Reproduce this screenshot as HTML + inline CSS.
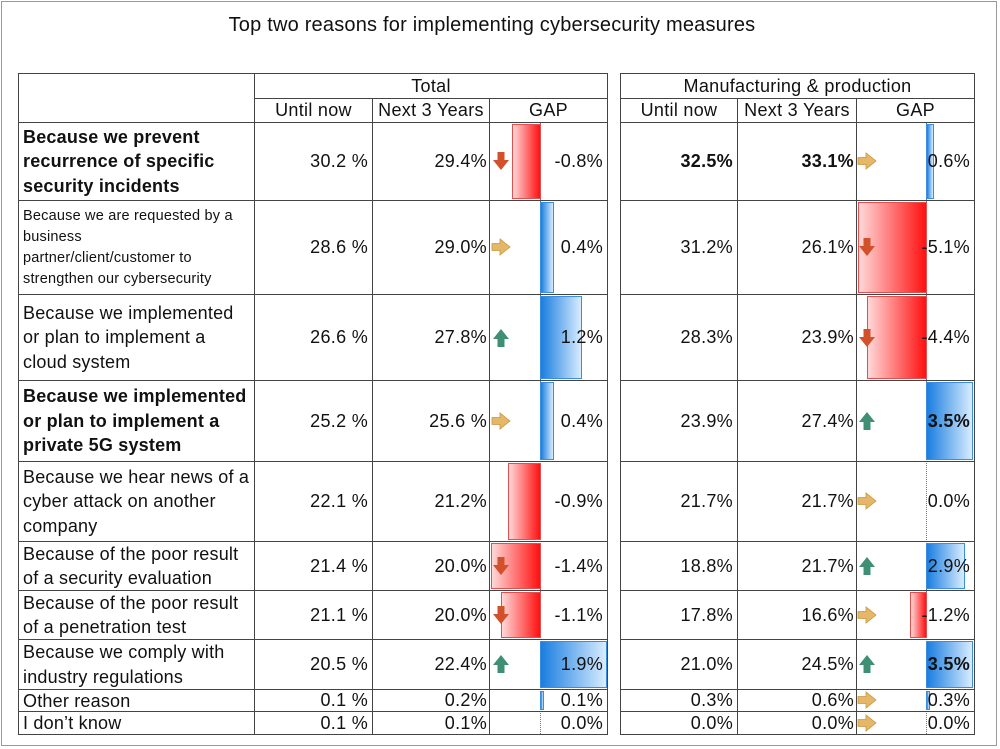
<!DOCTYPE html>
<html><head><meta charset="utf-8"><style>
body{margin:0;width:1000px;height:749px;background:#fff;font-family:"Liberation Sans","DejaVu Sans",sans-serif;position:relative;overflow:hidden;color:#111}
.frame{position:absolute;left:1px;top:1px;width:996px;height:745px;border:1px solid #9a9a9a;box-sizing:border-box}
.t{position:absolute;left:0;width:984px;top:14px;text-align:center;font-size:20px;letter-spacing:0.2px}
.c{position:absolute;box-sizing:border-box;border:1px solid #444;display:flex;align-items:center;justify-content:flex-end;padding-right:4px;font-size:18px;letter-spacing:0.3px;white-space:nowrap}
.h{justify-content:center;padding:0}
.l{justify-content:flex-start;padding:0 4px;white-space:nowrap;line-height:24.5px;letter-spacing:0.2px}
.g{background:transparent;z-index:2}
.b{font-weight:bold}
.br{position:absolute;box-sizing:border-box;border:1px solid #e05050;background:linear-gradient(to right,#ffd8d8,#ff1010);z-index:1}
.bb{position:absolute;box-sizing:border-box;border:1px solid #3a8ee0;background:linear-gradient(to right,#1a7ee0,#d8ecff);z-index:1}
.z{position:absolute;border-left:1px dotted #777;z-index:1}
</style></head><body>
<div class="frame"></div>
<div class="t">Top two reasons for implementing cybersecurity measures</div>

<div class="c h" style="left:18px;top:73px;width:237px;height:50px"></div>
<div class="c h" style="left:254px;top:73px;width:354px;height:26px">Total</div>
<div class="c h" style="left:254px;top:98px;width:119px;height:25px">Until now</div>
<div class="c h" style="left:372px;top:98px;width:118px;height:25px">Next 3 Years</div>
<div class="c h" style="left:489px;top:98px;width:119px;height:25px">GAP</div>
<div class="c h" style="left:620px;top:73px;width:355px;height:26px">Manufacturing &amp; production</div>
<div class="c h" style="left:620px;top:98px;width:118px;height:25px">Until now</div>
<div class="c h" style="left:737px;top:98px;width:120px;height:25px">Next 3 Years</div>
<div class="c h" style="left:856px;top:98px;width:119px;height:25px">GAP</div>

<div class="z" style="left:540px;top:122px;height:612px"></div>
<div class="z" style="left:926px;top:122px;height:612px"></div>

<div class="c l b" style="left:18px;top:122px;width:237px;height:79px">Because we prevent<br>recurrence of specific<br>security incidents</div>
<div class="c l" style="left:18px;top:200px;width:237px;height:95px;font-size:14.5px;line-height:21px">Because we are requested by a<br>business<br>partner/client/customer to<br>strengthen our cybersecurity</div>
<div class="c l" style="left:18px;top:294px;width:237px;height:87px">Because we implemented<br>or plan to implement a<br>cloud system</div>
<div class="c l b" style="left:18px;top:380px;width:237px;height:82px">Because we implemented<br>or plan to implement a<br>private 5G system</div>
<div class="c l" style="left:18px;top:461px;width:237px;height:81px">Because we hear news of a<br>cyber attack on another<br>company</div>
<div class="c l" style="left:18px;top:541px;width:237px;height:50px">Because of the poor result<br>of a security evaluation</div>
<div class="c l" style="left:18px;top:590px;width:237px;height:50px">Because of the poor result<br>of a penetration test</div>
<div class="c l" style="left:18px;top:639px;width:237px;height:51px">Because we comply with<br>industry regulations</div>
<div class="c l" style="left:18px;top:689px;width:237px;height:23px;line-height:20px">Other reason</div>
<div class="c l" style="left:18px;top:711px;width:237px;height:24px;line-height:20px">I don’t know</div>

<div class="c" style="left:254px;top:122px;width:119px;height:79px">30.2 %</div>
<div class="c" style="left:372px;top:122px;width:118px;height:79px;padding-right:2px">29.4%</div>
<div class="c g" style="left:489px;top:122px;width:119px;height:79px">-0.8%</div>
<div class="c" style="left:254px;top:200px;width:119px;height:95px">28.6 %</div>
<div class="c" style="left:372px;top:200px;width:118px;height:95px;padding-right:2px">29.0%</div>
<div class="c g" style="left:489px;top:200px;width:119px;height:95px">0.4%</div>
<div class="c" style="left:254px;top:294px;width:119px;height:87px">26.6 %</div>
<div class="c" style="left:372px;top:294px;width:118px;height:87px;padding-right:2px">27.8%</div>
<div class="c g" style="left:489px;top:294px;width:119px;height:87px">1.2%</div>
<div class="c" style="left:254px;top:380px;width:119px;height:82px">25.2 %</div>
<div class="c" style="left:372px;top:380px;width:118px;height:82px;padding-right:2px">25.6 %</div>
<div class="c g" style="left:489px;top:380px;width:119px;height:82px">0.4%</div>
<div class="c" style="left:254px;top:461px;width:119px;height:81px">22.1 %</div>
<div class="c" style="left:372px;top:461px;width:118px;height:81px;padding-right:2px">21.2%</div>
<div class="c g" style="left:489px;top:461px;width:119px;height:81px">-0.9%</div>
<div class="c" style="left:254px;top:541px;width:119px;height:50px">21.4 %</div>
<div class="c" style="left:372px;top:541px;width:118px;height:50px;padding-right:2px">20.0%</div>
<div class="c g" style="left:489px;top:541px;width:119px;height:50px">-1.4%</div>
<div class="c" style="left:254px;top:590px;width:119px;height:50px">21.1 %</div>
<div class="c" style="left:372px;top:590px;width:118px;height:50px;padding-right:2px">20.0%</div>
<div class="c g" style="left:489px;top:590px;width:119px;height:50px">-1.1%</div>
<div class="c" style="left:254px;top:639px;width:119px;height:51px">20.5 %</div>
<div class="c" style="left:372px;top:639px;width:118px;height:51px;padding-right:2px">22.4%</div>
<div class="c g" style="left:489px;top:639px;width:119px;height:51px">1.9%</div>
<div class="c" style="left:254px;top:689px;width:119px;height:23px">0.1 %</div>
<div class="c" style="left:372px;top:689px;width:118px;height:23px;padding-right:2px">0.2%</div>
<div class="c g" style="left:489px;top:689px;width:119px;height:23px">0.1%</div>
<div class="c" style="left:254px;top:711px;width:119px;height:24px">0.1 %</div>
<div class="c" style="left:372px;top:711px;width:118px;height:24px;padding-right:2px">0.1%</div>
<div class="c g" style="left:489px;top:711px;width:119px;height:24px">0.0%</div>

<div class="br" style="left:512px;top:124px;width:29px;height:75px"></div>
<div class="bb" style="left:540px;top:202px;width:14px;height:91px"></div>
<div class="bb" style="left:540px;top:296px;width:42px;height:83px"></div>
<div class="bb" style="left:540px;top:382px;width:14px;height:78px"></div>
<div class="br" style="left:508px;top:463px;width:33px;height:77px"></div>
<div class="br" style="left:491px;top:543px;width:50px;height:46px"></div>
<div class="br" style="left:501px;top:592px;width:40px;height:46px"></div>
<div class="bb" style="left:540px;top:641px;width:67px;height:47px"></div>
<div class="bb" style="left:540px;top:691px;width:4px;height:19px"></div>

<div class="c b" style="left:620px;top:122px;width:118px;height:79px">32.5%</div>
<div class="c b" style="left:737px;top:122px;width:120px;height:79px;padding-right:2px">33.1%</div>
<div class="c g" style="left:856px;top:122px;width:119px;height:79px">0.6%</div>
<div class="c" style="left:620px;top:200px;width:118px;height:95px">31.2%</div>
<div class="c" style="left:737px;top:200px;width:120px;height:95px;padding-right:2px">26.1%</div>
<div class="c g" style="left:856px;top:200px;width:119px;height:95px">-5.1%</div>
<div class="c" style="left:620px;top:294px;width:118px;height:87px">28.3%</div>
<div class="c" style="left:737px;top:294px;width:120px;height:87px;padding-right:2px">23.9%</div>
<div class="c g" style="left:856px;top:294px;width:119px;height:87px">-4.4%</div>
<div class="c" style="left:620px;top:380px;width:118px;height:82px">23.9%</div>
<div class="c" style="left:737px;top:380px;width:120px;height:82px;padding-right:2px">27.4%</div>
<div class="c g b" style="left:856px;top:380px;width:119px;height:82px">3.5%</div>
<div class="c" style="left:620px;top:461px;width:118px;height:81px">21.7%</div>
<div class="c" style="left:737px;top:461px;width:120px;height:81px;padding-right:2px">21.7%</div>
<div class="c g" style="left:856px;top:461px;width:119px;height:81px">0.0%</div>
<div class="c" style="left:620px;top:541px;width:118px;height:50px">18.8%</div>
<div class="c" style="left:737px;top:541px;width:120px;height:50px;padding-right:2px">21.7%</div>
<div class="c g" style="left:856px;top:541px;width:119px;height:50px">2.9%</div>
<div class="c" style="left:620px;top:590px;width:118px;height:50px">17.8%</div>
<div class="c" style="left:737px;top:590px;width:120px;height:50px;padding-right:2px">16.6%</div>
<div class="c g" style="left:856px;top:590px;width:119px;height:50px">-1.2%</div>
<div class="c" style="left:620px;top:639px;width:118px;height:51px">21.0%</div>
<div class="c" style="left:737px;top:639px;width:120px;height:51px;padding-right:2px">24.5%</div>
<div class="c g b" style="left:856px;top:639px;width:119px;height:51px">3.5%</div>
<div class="c" style="left:620px;top:689px;width:118px;height:23px">0.3%</div>
<div class="c" style="left:737px;top:689px;width:120px;height:23px;padding-right:2px">0.6%</div>
<div class="c g" style="left:856px;top:689px;width:119px;height:23px">0.3%</div>
<div class="c" style="left:620px;top:711px;width:118px;height:24px">0.0%</div>
<div class="c" style="left:737px;top:711px;width:120px;height:24px;padding-right:2px">0.0%</div>
<div class="c g" style="left:856px;top:711px;width:119px;height:24px">0.0%</div>

<div class="bb" style="left:926px;top:124px;width:8px;height:75px"></div>
<div class="br" style="left:858px;top:202px;width:69px;height:91px"></div>
<div class="br" style="left:867px;top:296px;width:60px;height:83px"></div>
<div class="bb" style="left:926px;top:382px;width:47px;height:78px"></div>
<div class="bb" style="left:926px;top:543px;width:39px;height:46px"></div>
<div class="br" style="left:910px;top:592px;width:17px;height:46px"></div>
<div class="bb" style="left:926px;top:641px;width:47px;height:47px"></div>
<div class="bb" style="left:926px;top:691px;width:4px;height:19px"></div>

<svg width="1000" height="749" style="position:absolute;left:0;top:0;z-index:4">
<defs>
<path id="dn" d="M-3.5,-9 h7 v8 h4.5 l-8,10 l-8,-10 h4.5z" fill="#d2502a"/>
<path id="up" d="M-3.5,9 h7 v-8 h4.5 l-8,-10 l-8,10 h4.5z" fill="#3f8f74"/>
<path id="rt" d="M-9,-3.5 v7 h8 v4.5 l10,-8 l-10,-8 v4.5z" fill="#e4b868" stroke="#c8963e" stroke-width="0.8"/>
</defs>
<use href="#dn" x="501" y="161"/>
<use href="#rt" x="501" y="247"/>
<use href="#up" x="501" y="338"/>
<use href="#rt" x="501" y="421"/>
<use href="#dn" x="501" y="566"/>
<use href="#dn" x="501" y="615"/>
<use href="#up" x="501" y="664"/>
<use href="#rt" x="867" y="161"/>
<use href="#dn" x="867" y="247"/>
<use href="#dn" x="867" y="338"/>
<use href="#up" x="867" y="421"/>
<use href="#rt" x="867" y="501"/>
<use href="#up" x="867" y="566"/>
<use href="#rt" x="867" y="615"/>
<use href="#up" x="867" y="664"/>
<use href="#rt" x="867" y="700"/>
<use href="#rt" x="867" y="723"/>
</svg>
</body></html>
